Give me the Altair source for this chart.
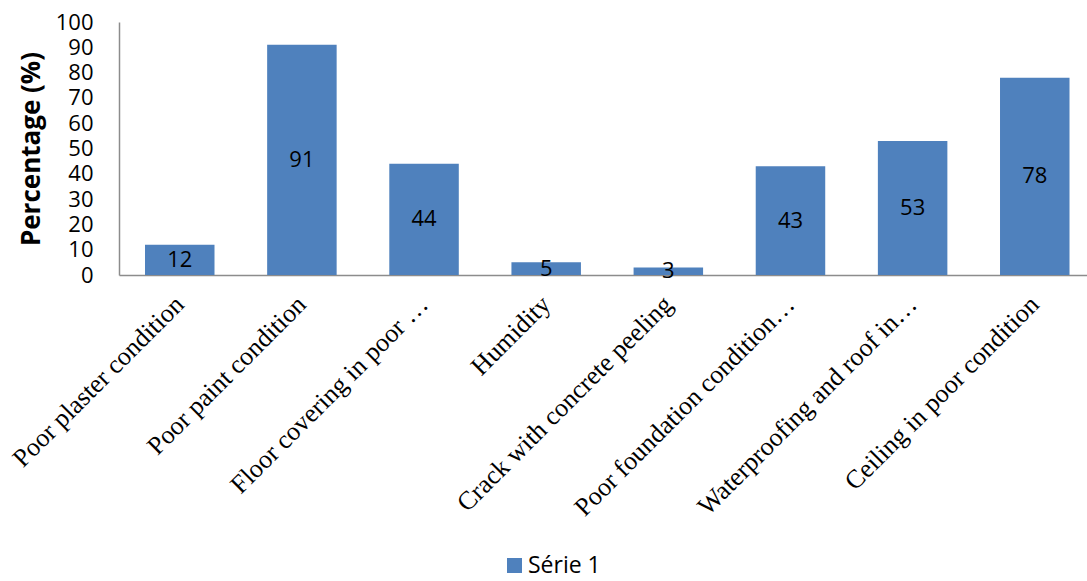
import altair as alt
import pandas as pd

# Building defects and the share of surveyed buildings showing each one
categories = [
    "Poor plaster condition",
    "Poor paint condition",
    "Floor covering in poor …",
    "Humidity",
    "Crack with concrete peeling",
    "Poor foundation condition…",
    "Waterproofing and roof in…",
    "Ceiling in poor condition",
]
percentages = [12, 91, 44, 5, 3, 43, 53, 78]
series_name = "Série 1"
y_ticks = list(range(0, 101, 10))

bar_color = "#4F81BD"
axis_color = "#8c8c8c"

df = pd.DataFrame({
    "category": categories,
    "value": percentages,
    "series": [series_name] * len(categories),
})

x_scale = alt.Scale(paddingInner=0.431, paddingOuter=0.178, align=0.598)
y_scale = alt.Scale(domain=[0, 100], nice=False)

x_axis = alt.Axis(
    title=None,
    labelAngle=-45,
    labelAlign="right",
    labelBaseline="middle",
    labelFont="Liberation Serif",
    labelFontSize=26,
    labelColor="#000000",
    labelPadding=25,
    labelLimit=0,
    labelOverlap=False,
    ticks=False,
    domainColor=axis_color,
    domainWidth=1.5,
    grid=False,
)

y_axis = alt.Axis(
    title="Percentage (%)",
    titleFont="Open Sans",
    titleFontSize=26,
    titleFontWeight="bold",
    titleColor="#000000",
    titlePadding=11,
    values=y_ticks,
    labelOverlap=False,
    labelFont="Open Sans",
    labelFontSize=22,
    labelColor="#000000",
    labelPadding=26,
    ticks=False,
    domainColor=axis_color,
    domainWidth=1.5,
    grid=False,
)

bars = alt.Chart(df).mark_bar(size=69.5).encode(
    x=alt.X("category:N", sort=categories, scale=x_scale, axis=x_axis),
    y=alt.Y("value:Q", scale=y_scale, axis=y_axis),
    color=alt.Color(
        "series:N",
        scale=alt.Scale(domain=[series_name], range=[bar_color]),
        legend=alt.Legend(
            title=None,
            orient="none",
            legendX=384,
            legendY=532,
            symbolType="square",
            symbolSize=225,
            symbolStrokeWidth=0,
            labelFont="Open Sans",
            labelFontSize=23,
            labelColor="#000000",
            labelOffset=2,
            padding=0,
        ),
    ),
)

# value labels centred halfway up each bar
labels = alt.Chart(df).transform_calculate(
    half="datum.value / 2"
).mark_text(
    font="Open Sans", fontSize=22, color="#000000", baseline="middle", align="center"
).encode(
    x=alt.X("category:N", sort=categories, scale=x_scale, axis=x_axis),
    y=alt.Y("half:Q", scale=y_scale, axis=y_axis),
    text=alt.Text("value:Q"),
)

chart = alt.layer(bars, labels).properties(
    width=968,
    height=253,
    background="#ffffff",
    autosize=alt.AutoSizeParams(type="none"),
    padding={"left": 119, "top": 22, "right": 0, "bottom": 306},
).configure_view(stroke=None)

chart.save("out.html", embed_options={"renderer": "svg", "actions": False})
